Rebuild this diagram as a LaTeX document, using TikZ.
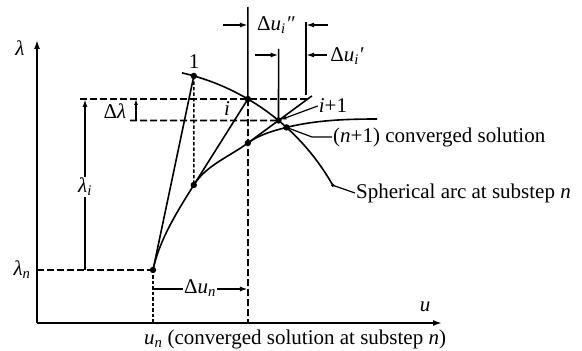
\documentclass[tikz,border=0pt]{standalone}
\usepackage{fontspec}
\setmainfont{Liberation Serif}
\usetikzlibrary{arrows.meta,calc}
\newcommand\mysub[1]{\textsubscript{\itshape #1}}
\begin{document}
\begin{tikzpicture}[x=1pt,y=1pt,
  every node/.style={font=\fontsize{21}{24}\selectfont, inner sep=1pt},
  ln/.style={line width=1.6pt},
  dsh/.style={line width=1.7pt, dash pattern=on 7pt off 3pt},
  fdsh/.style={line width=1.5pt, dash pattern=on 3.5pt off 2pt},
  tipar/.style={-{Latex[length=8pt,width=5pt]}},
  lab/.style={fill=white, inner sep=1pt}]
\useasboundingbox (0,0) rectangle (582,351);
% key points
\coordinate (O) at (37,28);
\coordinate (xend) at (442,28);
\coordinate (yend) at (37,311);
\coordinate (ctr) at (130,51);
\coordinate (Pn) at (153,81);
\coordinate (p1) at ($(ctr)+(74.1:233)$);
\coordinate (pi) at ($(ctr)+(59.6:233)$);
\coordinate (ip1) at ($(ctr)+(50.4:233)$);
\coordinate (C) at ($(ctr)+(47.8:233)$);
\coordinate (arcS) at ($(ctr)+(77.1:233)$);
\coordinate (arcE) at ($(ctr)+(29.5:233)$);
\coordinate (A) at (193.8,166);
\coordinate (B) at (247.9,208);
\coordinate (E) at (377,232);
\coordinate (tend) at ($(B)!2.09!(ip1)$);
% axes
\draw[ln, -{Latex[length=9pt,width=6pt]}] (O) -- (xend);
\draw[ln, -{Latex[length=9pt,width=6pt]}] (O) -- (yend);
\node (lam) at (20,303) {\textit{λ}};
\node (u) at (425,44) {\textit{u}};
\node (lamn) at (22,81) {\textit{λ}\mysub{n}};
\node (bot) at (295,12) {\textit{u}\mysub{n} (converged solution at substep \textit{n})};
% dashed guides
\coordinate (ln0) at (37,81);
\draw[dsh] (ln0) -- (Pn);
\coordinate (up0) at (80,252);
\coordinate (up1) at (307,252);
\draw[dsh] (up0) -- (up1);
\coordinate (lo0) at (130,230.5);
\draw[dsh] (lo0) -- (ip1);
\coordinate (Pnax) at (153,28);
\coordinate (piax) at (247.9,28);
\draw[fdsh] (Pn) -- (Pnax);
\draw[dsh] (pi) -- (piax);
\draw[fdsh] (p1) -- (A);
% spherical arc
\draw[ln] (arcS) arc[start angle=77.1, end angle=29.5, radius=233];
% converged path
\draw[ln] (Pn) .. controls (159.4,111.3) and (177.3,139.7) .. (A)
  .. controls (206.0,185.5) and (229.3,194.4) .. (B)
  .. controls (259.2,216.3) and (273.0,220.2) .. (C)
  .. controls (315.7,230.9) and (347,232) .. (E);
% tangent lines
\draw[ln] (Pn) -- (p1);
\draw[ln] (A) -- (pi);
\draw[ln] (B) -- (tend);
% vertical solid lines
\coordinate (pitop) at (247.9,344);
\coordinate (ip1top) at (278.6,302);
\coordinate (rtop) at (306,329);
\coordinate (rbot) at (306,256);
\draw[ln] (pi) -- (pitop);
\draw[ln] (ip1) -- (ip1top);
\draw[ln] (rtop) -- (rbot);
% dimension arrows top
\coordinate (a1s) at (223,326); \coordinate (a1e) at (247.9,326);
\coordinate (a2s) at (328,326); \coordinate (a2e) at (306,326);
\draw[ln, tipar] (a1s) -- (a1e);
\draw[ln, tipar] (a2s) -- (a2e);
\node (dui2) at (276,326) {Δ\textit{u}\mysub{i}\textit{\symbol{"2033}}};
\coordinate (b1s) at (255,296); \coordinate (b1e) at (278.6,296);
\coordinate (b2s) at (327,296); \coordinate (b2e) at (306,296);
\draw[ln, tipar] (b1s) -- (b1e);
\draw[ln, tipar] (b2s) -- (b2e);
\node (dui1) at (347,295) {Δ\textit{u}\mysub{i}\textit{\symbol{"2032}}};
% delta u_n
\coordinate (dn0) at (153,62); \coordinate (dn1) at (247.9,62);
\draw[ln, tipar] (dn0) -- (dn1);
\node[lab] (dun) at (200,63) {Δ\textit{u}\mysub{n}};
% lambda_i
\coordinate (li0) at (85,81); \coordinate (li1) at (85,252);
\draw[ln, tipar] (li0) -- (li1);
\node[lab] (lami) at (85,164) {\textit{λ}\mysub{i}};
% delta lambda
\coordinate (dl0) at (136,230.5); \coordinate (dl1) at (136,252);
\draw[ln, -{Latex[length=6pt,width=4pt]}] (dl0) -- (dl1);
\node (dlam) at (115,240) {Δ\textit{λ}};
% dots
\foreach \p in {Pn,p1,pi,ip1,C,A,B}{\fill (\p) circle (3.2);}
% point labels
\node (l1) at (194,289) {1};
\node (li) at (227,242) {\textit{i}};
\node (lip1) at (333,245) {\textit{i}+1};
\draw[line width=1.2pt, -{Latex[length=6pt,width=4pt]}, shorten >=2pt] (lip1.west) -- (ip1);
\node[anchor=west] (conv) at (332,214) {(\textit{n}+1) converged solution};
\coordinate (cv1) at (312,214);
\draw[line width=1.2pt] (C) -- (cv1) -- (conv.west);
\node[anchor=west] (sph) at (355,158) {Spherical arc at substep \textit{n}};
\fill (arcE) circle (1.8);
\draw[line width=1.2pt] (arcE) -- (sph.west);
\end{tikzpicture}
\end{document}
